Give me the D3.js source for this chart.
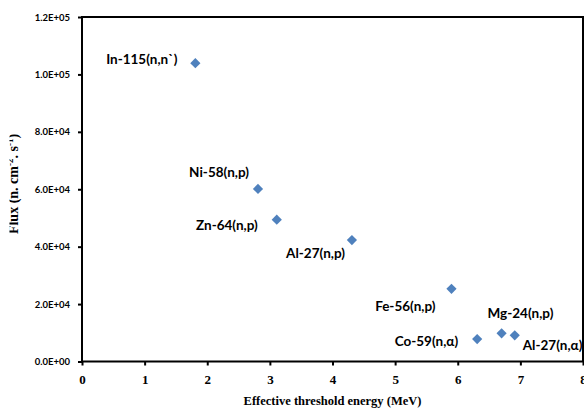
<!DOCTYPE html>
<html>
<head>
<meta charset="utf-8">
<script src="https://cdn.jsdelivr.net/npm/d3@7"></script>
<style>
  body { margin: 0; background: #fff; }
  .tick-y text { font-family: Lato, "Open Sans", sans-serif; font-weight: bold; font-size: 9.5px; }
  .tick-x text { font-family: "Liberation Serif", "Times New Roman", serif; font-weight: bold; font-size: 13px; }
  .pt-label { font-family: Lato, "Open Sans", sans-serif; font-weight: bold; font-size: 13.5px; fill: #000; }
  .title { font-family: "Liberation Serif", "Times New Roman", serif; font-weight: bold; font-size: 12.5px; }
</style>
</head>
<body>
<div id="chart"></div>
<script>
// reactions, effective threshold energy (MeV) and flux
const reactions = ['In-115(n,n`)', 'Ni-58(n,p)', 'Zn-64(n,p)', 'Al-27(n,p)', 'Fe-56(n,p)', 'Co-59(n,α)', 'Mg-24(n,p)', 'Al-27(n,α)'];
const energy = [1.81, 2.81, 3.11, 4.31, 5.90, 6.31, 6.70, 6.91];
const flux = [103900, 60100, 49400, 42300, 25300, 7800, 9800, 9100];
const xTicks = [0, 1, 2, 3, 4, 5, 6, 7, 8];
const yTicks = [0, 20000, 40000, 60000, 80000, 100000, 120000];

// where each label sits next to its marker
const labelPlace = [
  { anchor: 'end', dx: -18, dy: 1 },
  { anchor: 'end', dx: -9, dy: -12 },
  { anchor: 'end', dx: -19, dy: 10 },
  { anchor: 'end', dx: -7, dy: 18 },
  { anchor: 'end', dx: -16, dy: 22 },
  { anchor: 'end', dx: -19, dy: 7 },
  { anchor: 'start', dx: -14, dy: -15 },
  { anchor: 'start', dx: 8, dy: 15 }
];

const W = 584, H = 409;
const margin = { top: 17, right: 1, bottom: 47.5, left: 82 };
const width = W - margin.left - margin.right;
const height = H - margin.top - margin.bottom;

const svg = d3.select('#chart').append('svg')
  .attr('width', W)
  .attr('height', H);

const g = svg.append('g')
  .attr('transform', 'translate(' + margin.left + ',' + margin.top + ')');

const x = d3.scaleLinear().domain([0, 8]).range([0, width]);
const y = d3.scaleLinear().domain([0, 120000]).range([height, 0]);

const fmt = v => {
  const e = Math.floor(Math.log10(v || 1));
  const m = v === 0 ? 0 : v / Math.pow(10, e);
  return m.toFixed(1) + 'E+' + String(v === 0 ? 0 : e).padStart(2, '0');
};

const yAxis = d3.axisLeft(y).tickValues(yTicks).tickSize(4).tickPadding(8).tickFormat(fmt);
const xAxis = d3.axisBottom(x).tickValues(xTicks).tickSize(4).tickPadding(9).tickFormat(d3.format('d'));

g.append('g').attr('class', 'tick-y').call(yAxis)
  .call(s => s.select('.domain').remove())
  .call(s => s.selectAll('line').attr('stroke', '#000').attr('stroke-width', 2));

g.append('g').attr('class', 'tick-x')
  .attr('transform', 'translate(0,' + height + ')')
  .call(xAxis)
  .call(s => s.select('.domain').remove())
  .call(s => s.selectAll('line').attr('stroke', '#000').attr('stroke-width', 2));

// plot frame
g.append('rect')
  .attr('x', 0).attr('y', 0)
  .attr('width', width).attr('height', height)
  .attr('fill', 'none')
  .attr('stroke', '#000')
  .attr('stroke-width', 2);

const pts = reactions.map((r, i) => ({ name: r, e: energy[i], f: flux[i], p: labelPlace[i] }));

const diamond = d3.symbol().type(d3.symbolSquare).size(52);

g.selectAll('.pt').data(pts).enter()
  .append('path')
  .attr('class', 'pt')
  .attr('d', diamond)
  .attr('transform', d => 'translate(' + x(d.e) + ',' + y(d.f) + ') rotate(45)')
  .attr('fill', '#4F81BD');

g.selectAll('.pt-label').data(pts).enter()
  .append('text')
  .attr('class', 'pt-label')
  .attr('x', d => x(d.e) + d.p.dx)
  .attr('y', d => y(d.f) + d.p.dy)
  .attr('text-anchor', d => d.p.anchor)
  .text(d => d.name);

svg.append('text')
  .attr('class', 'title')
  .attr('x', margin.left + width / 2)
  .attr('y', 405)
  .attr('text-anchor', 'middle')
  .text('Effective threshold energy (MeV)');

// y title is partly clipped at the left edge, as in the original
svg.append('clipPath').attr('id', 'yclip')
  .append('rect').attr('x', 9.5).attr('y', 0).attr('width', 40).attr('height', H);

const yt = svg.append('g')
  .attr('clip-path', 'url(#yclip)')
  .append('text')
  .attr('class', 'title')
  .style('font-size', '14px')
  .attr('text-anchor', 'middle')
  .attr('transform', 'translate(17.5,184) rotate(-90)');
yt.append('tspan').text('Flux (n. cm');
yt.append('tspan').attr('font-size', '9px').attr('dy', -5).text('-2');
yt.append('tspan').attr('dy', 5).text('. s');
yt.append('tspan').attr('font-size', '9px').attr('dy', -5).text('-1');
yt.append('tspan').attr('dy', 5).text(')');
</script>
</body>
</html>
